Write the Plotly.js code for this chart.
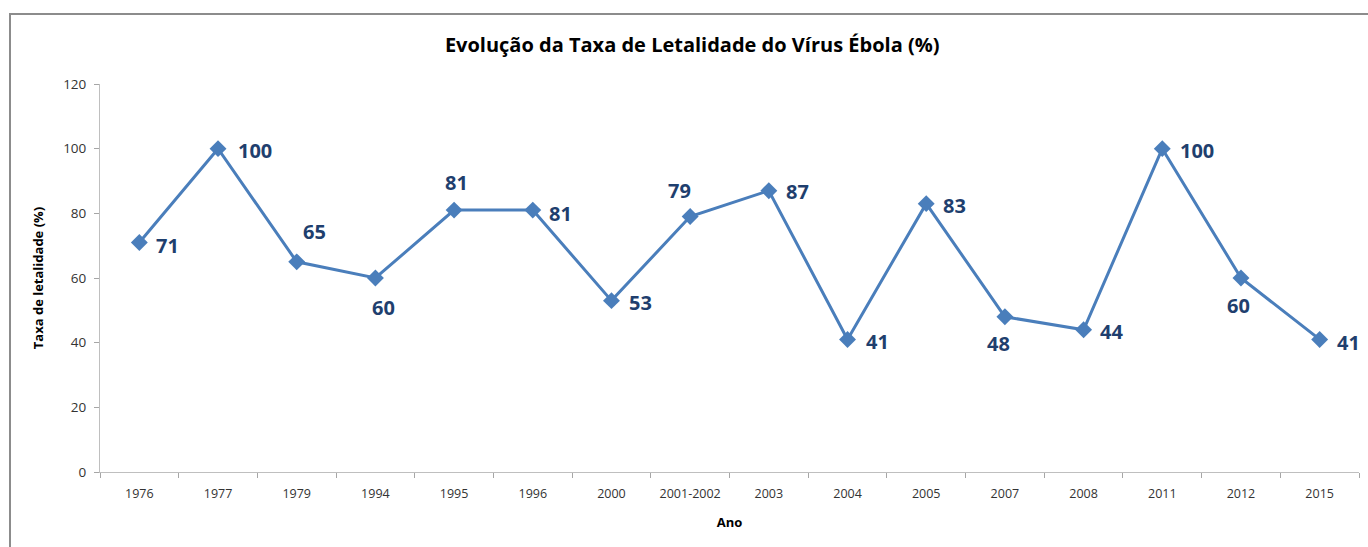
<!DOCTYPE html>
<html>
<head>
<meta charset="utf-8">
<script src="https://cdn.plot.ly/plotly-3.0.1.min.js"></script>
<style>
  html, body { margin: 0; padding: 0; background: #fff; overflow: hidden; }
  #wrap { position: relative; width: 1368px; height: 547px; }
  #chart { position: absolute; left: 0; top: 0; width: 1368px; height: 547px; }
  #frame { position: absolute; left: 9px; top: 13px; width: 1400px; height: 600px;
           border: 2px solid #8c8c8c; box-sizing: border-box; pointer-events: none; }
</style>
</head>
<body>
<div id="wrap">
  <div id="chart"></div>
  <div id="frame"></div>
</div>
<script>
const years = ["1976","1977","1979","1994","1995","1996","2000","2001-2002","2003","2004","2005","2007","2008","2011","2012","2015"];
const lethality = [71,100,65,60,81,81,53,79,87,41,83,48,44,100,60,41];
const yTicks = [0,20,40,60,80,100,120];
const chartTitle = "Evolução da Taxa de Letalidade do Vírus Ébola (%)";
const yTitle = "Taxa de letalidade (%)";
const xTitle = "Ano";

// label offsets in pixels (style only)
const labelDx = [28,37,18,8,2,28,29,-11,29,30,28,-6,28,35,-2,29];
const labelDy = [3,2,-30,29,-28,3,2,-26,1,2,2,27,2,2,27,3];

const lineColor = "#4A7EBB";
const labelColor = "#1F3F6E";
const fontFam = "'Open Sans', 'Noto Sans', sans-serif";

// x given as category index on the category axis
const annotations = years.map((yr, i) => ({
  x: i, y: lethality[i], xref: "x", yref: "y",
  text: String(lethality[i]), showarrow: false,
  xshift: labelDx[i], yshift: -labelDy[i],
  xanchor: "center", yanchor: "middle",
  font: { family: fontFam, size: 20, color: labelColor, weight: "bold" }
}));

const trace = {
  x: years, y: lethality, type: "scatter", mode: "lines+markers",
  line: { color: lineColor, width: 3 },
  marker: { symbol: "diamond", size: 13, color: lineColor },
  hoverinfo: "skip", cliponaxis: false
};

const layout = {
  width: 1368, height: 547,
  margin: { l: 100, r: 9, t: 84, b: 75 },
  paper_bgcolor: "#fff", plot_bgcolor: "#fff",
  showlegend: false,
  title: { text: chartTitle, x: 0.506, xanchor: "center", y: 1 - 45/547, yanchor: "middle", yref: "container",
           font: { family: fontFam, size: 20, color: "#000", weight: "bold" } },
  xaxis: {
    type: "category", tickson: "boundaries", ticks: "outside", ticklen: 5, tickcolor: "#a6a6a6",
    showline: true, linecolor: "#bfbfbf", linewidth: 1, showgrid: false, zeroline: false,
    tickfont: { family: fontFam, size: 12.5, color: "#333" },
    ticklabelstandoff: 10,
    range: [-0.5, years.length - 0.5],
    title: { text: xTitle, standoff: 16, font: { family: fontFam, size: 13, color: "#000", weight: "bold" } }
  },
  yaxis: {
    range: [0, 120], tickvals: yTicks, ticktext: yTicks.map(String),
    ticks: "outside", ticklen: 5, tickcolor: "#a6a6a6",
    showline: true, linecolor: "#bfbfbf", linewidth: 1, showgrid: false, zeroline: false,
    tickfont: { family: fontFam, size: 13.5, color: "#333" },
    ticklabelstandoff: 5,
    title: { text: yTitle, standoff: 16, font: { family: fontFam, size: 13, color: "#000", weight: "bold" } }
  },
  annotations: annotations
};

Plotly.newPlot("chart", [trace], layout, { staticPlot: true, displayModeBar: false });
</script>
</body>
</html>
